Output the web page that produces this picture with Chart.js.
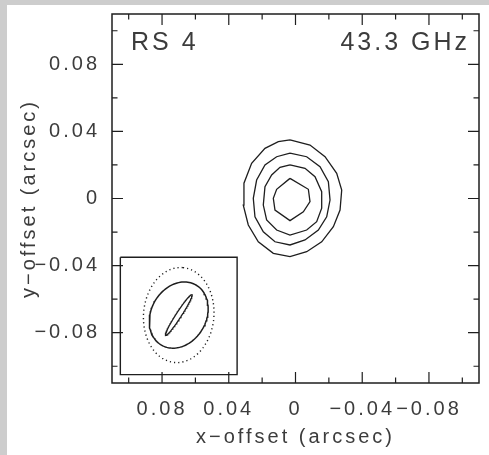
<!DOCTYPE html>
<html><head><meta charset="utf-8">
<script src="https://cdn.jsdelivr.net/npm/chart.js@4.4.1/dist/chart.umd.min.js"></script>
<style>html,body{margin:0;padding:0;background:#fff;overflow:hidden}canvas{display:block}</style>
</head><body>
<canvas id="c" width="489" height="455"></canvas>
<script>
// ---- texts ----
const sourceName = 'RS 4';
const frequencyLabel = '43.3 GHz';
const xTitle = 'x\u2212offset (arcsec)';
const yTitle = 'y\u2212offset (arcsec)';
// ---- axes ----
const axisMin = -0.11, axisMax = 0.11;
const majorTicks = [-0.08, -0.04, 0, 0.04, 0.08];
const minorTicks = [-0.10, -0.06, -0.02, 0.02, 0.06, 0.10];
// ---- contours [x, y] in arcsec ----
const contourLevel1 = [[0.0033,0.0349],[-0.0087,0.0319],[-0.0177,0.0249],[-0.0247,0.0150],[-0.0277,0.0051],[-0.0267,-0.0069],[-0.0227,-0.0168],[-0.0157,-0.0258],[-0.0067,-0.0317],[0.0033,-0.0347],[0.0133,-0.0327],[0.0223,-0.0258],[0.0283,-0.0158],[0.0313,-0.0039],[0.0309,0.0091],[0.0263,0.0210],[0.0183,0.0299],[0.0103,0.0339]];
const contourLevel2 = [[0.0033,0.0270],[-0.0067,0.0249],[-0.0147,0.0190],[-0.0197,0.0100],[-0.0207,-0.0009],[-0.0187,-0.0109],[-0.0137,-0.0188],[-0.0057,-0.0247],[0.0033,-0.0277],[0.0123,-0.0258],[0.0193,-0.0198],[0.0243,-0.0109],[0.0253,0.0001],[0.0233,0.0110],[0.0183,0.0200],[0.0113,0.0249]];
const contourLevel3 = [[0.0033,0.0200],[-0.0057,0.0180],[-0.0117,0.0130],[-0.0157,0.0041],[-0.0157,-0.0058],[-0.0127,-0.0138],[-0.0067,-0.0188],[0.0033,-0.0218],[0.0113,-0.0188],[0.0173,-0.0128],[0.0193,-0.0039],[0.0183,0.0070],[0.0143,0.0140],[0.0093,0.0186]];
const contourLevel4 = [[0.0033,0.0120],[-0.0077,0.0055],[-0.0087,-0.0019],[-0.0047,-0.0079],[0.0033,-0.0132],[0.0123,-0.0069],[0.0133,0.0001],[0.0113,0.0055]];
// ---- inset ----
const insetBox = [[0.105,-0.035],[0.035,-0.035],[0.035,-0.105],[0.105,-0.105]];
const insetCenter = [0.070, -0.0695];
// [semi-major, semi-minor, position angle (deg, east of north)]
const insetDottedEllipse = [0.0284, 0.0211, -5];
const insetSolidEllipse = [0.0207, 0.0165, -30];
const insetThinEllipse = [0.0146, 0.0016, -33];

const closed = pts => pts.concat([pts[0]]).map(p => ({x: p[0], y: p[1]}));
function ellipse(c, e) {
  const [a, b, pa] = e, th = pa * Math.PI / 180, out = [];
  for (let i = 0; i <= 120; i++) {
    const t = 2 * Math.PI * i / 120, u = a * Math.cos(t), v = b * Math.sin(t);
    out.push({x: c[0] + u * Math.sin(th) + v * Math.cos(th), y: c[1] + u * Math.cos(th) - v * Math.sin(th)});
  }
  return out;
}

const INK = '#1e1e1e', TXT = '#3c3c3c';
const FONT = "'Liberation Sans', Arial, sans-serif";
const line = (data, extra) => Object.assign({data, showLine: true, pointRadius: 0, borderColor: INK, borderWidth: 1.3, fill: false, tension: 0}, extra || {});
const zeroPad = s => { s.paddingTop = 0; s.paddingBottom = 0; s.paddingLeft = 0; s.paddingRight = 0; };

const decor = {
  id: 'decor',
  beforeDraw(chart) {
    const ctx = chart.ctx;
    ctx.save();
    ctx.fillStyle = '#cdcdcd';
    ctx.fillRect(0, 0, chart.width, chart.height);
    ctx.fillStyle = '#ffffff';
    ctx.fillRect(7, 5, chart.width - 7, chart.height - 5);
    ctx.restore();
    ctx.letterSpacing = '3px';
  },
  afterDatasetsDraw(chart) {
    const ctx = chart.ctx, a = chart.chartArea, xs = chart.scales.x, ys = chart.scales.y;
    ctx.save();
    ctx.strokeStyle = INK; ctx.lineWidth = 1.5;
    ctx.strokeRect(a.left, a.top, a.right - a.left, a.bottom - a.top);
    ctx.lineWidth = 1.2;
    const tick = (v, len) => {
      const px = xs.getPixelForValue(v), py = ys.getPixelForValue(v);
      ctx.beginPath();
      ctx.moveTo(px, a.bottom); ctx.lineTo(px, a.bottom - len);
      ctx.moveTo(px, a.top); ctx.lineTo(px, a.top + len);
      ctx.moveTo(a.left, py); ctx.lineTo(a.left + len, py);
      ctx.moveTo(a.right, py); ctx.lineTo(a.right - len, py);
      ctx.stroke();
    };
    majorTicks.forEach(v => tick(v, 11));
    minorTicks.forEach(v => tick(v, 5.5));
    ctx.fillStyle = TXT;
    ctx.font = '25px ' + FONT;
    ctx.letterSpacing = '3px';
    ctx.textBaseline = 'alphabetic';
    ctx.textAlign = 'left';
    ctx.fillText(sourceName, a.left + 19, a.top + 36);
    ctx.textAlign = 'right';
    ctx.fillText(frequencyLabel, a.right - 9, a.top + 36);
    ctx.restore();
  }
};

const fmt = v => Math.abs(v) < 1e-9 ? '0' : (v < 0 ? '\u2212' : '') + Math.abs(v).toFixed(2);

new Chart(document.getElementById('c'), {
  type: 'scatter',
  data: {
    datasets: [
      line(closed(contourLevel1)),
      line(closed(contourLevel2)),
      line(closed(contourLevel3)),
      line(closed(contourLevel4)),
      line(closed(insetBox), {borderWidth: 1.4}),
      line(ellipse(insetCenter, insetDottedEllipse), {borderDash: [1.2, 3], borderWidth: 1.4}),
      line(ellipse(insetCenter, insetSolidEllipse), {borderWidth: 1.5}),
      line(ellipse(insetCenter, insetThinEllipse), {borderWidth: 1.3})
    ]
  },
  options: {
    responsive: false, animation: false, devicePixelRatio: 1,
    layout: {padding: {top: 14, right: 10, left: 0, bottom: 0}},
    plugins: {legend: {display: false}, tooltip: {enabled: false}},
    scales: {
      x: {
        type: 'linear', min: axisMin, max: axisMax, reverse: true,
        afterBuildTicks: s => { s.ticks = majorTicks.map(v => ({value: v})); },
        afterFit: s => { s.height = 72; zeroPad(s); },
        grid: {display: false, drawTicks: false},
        border: {display: false},
        ticks: {callback: v => fmt(v), autoSkip: false, maxRotation: 0, minRotation: 0, padding: 14, color: TXT, font: {family: FONT, size: 20}},
        title: {display: true, text: xTitle, color: TXT, font: {family: FONT, size: 20}, padding: {top: 0, bottom: 6}}
      },
      y: {
        type: 'linear', min: axisMin, max: axisMax,
        afterBuildTicks: s => { s.ticks = majorTicks.map(v => ({value: v})); },
        afterFit: s => { s.width = 112; zeroPad(s); },
        grid: {display: false, drawTicks: false},
        border: {display: false},
        ticks: {callback: v => fmt(v), autoSkip: false, padding: 12, color: TXT, font: {family: FONT, size: 20}},
        title: {display: true, text: yTitle, color: TXT, font: {family: FONT, size: 20}, padding: {top: 17, bottom: 0}}
      }
    }
  },
  plugins: [decor]
});
</script>
</body></html>
